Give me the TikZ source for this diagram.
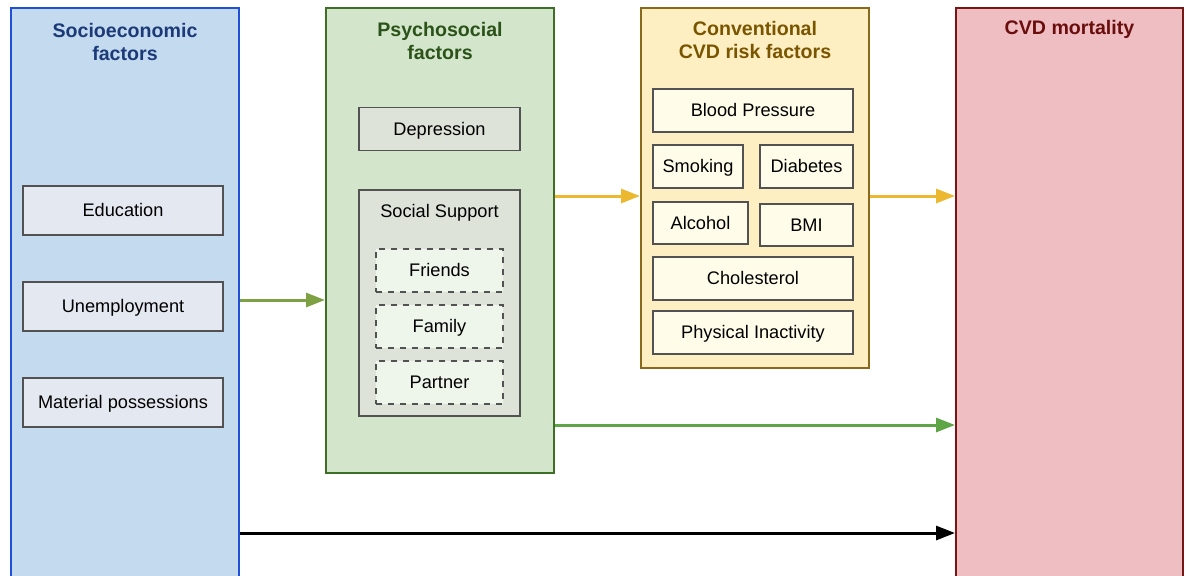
\documentclass[tikz,border=0pt]{standalone}
\usepackage{fontspec}
\setmainfont{Liberation Sans}
\usetikzlibrary{arrows.meta}
\definecolor{sefill}{HTML}{C4DAEF}
\definecolor{sedraw}{HTML}{2050D8}
\definecolor{setext}{HTML}{1C3A78}
\definecolor{seitem}{HTML}{E4E9F1}
\definecolor{psyfill}{HTML}{D3E6CC}
\definecolor{psydraw}{HTML}{3D7024}
\definecolor{psytext}{HTML}{2B5218}
\definecolor{psyitem}{HTML}{DEE3D9}
\definecolor{psysub}{HTML}{EEF5EA}
\definecolor{convfill}{HTML}{FEEFC3}
\definecolor{convdraw}{HTML}{8A6A1A}
\definecolor{convtext}{HTML}{7A5500}
\definecolor{convitem}{HTML}{FFFDEA}
\definecolor{cvdfill}{HTML}{EFBEC2}
\definecolor{cvddraw}{HTML}{7A1515}
\definecolor{cvdtext}{HTML}{6A0D0D}
\definecolor{olivearrow}{HTML}{7EA243}
\definecolor{yellowarrow}{HTML}{EBB82F}
\definecolor{greenarrow}{HTML}{5DA545}
\tikzset{
    x=0.5pt,
    y=-0.5pt,
    group/.style = {
        draw,
        shape=rectangle,
        inner sep=0pt,
        line width=1pt
    },
    title/.style = {
        align=center,
        font=\fontsize{9.8}{11.5}\selectfont\bfseries
    },
    label text/.style = {
        inner sep=0pt,
        text height=7.2pt,
        text depth=1pt,
        font=\fontsize{9.1}{11}\selectfont
    },
    item/.style = {
        label text,
        draw=black!68,
        shape=rectangle,
        line width=0.6pt
    },
    sub/.style = {
        item,
        dashed,
        fill=psysub
    },
    link/.style = {
        draw,
        line width=1.5pt,
        -{Triangle[length=9.5pt,width=7pt]}
    },
}

\begin{document}
\begin{tikzpicture}
            \useasboundingbox (0,0) rectangle (1186,575);

            % outer groups
            \node[group, fill=sefill, draw=sedraw, minimum width=114pt, minimum height=291pt] (socio) at (125,299) {};
            \node[group, fill=psyfill, draw=psydraw, minimum width=114pt, minimum height=232.5pt] (psycho) at (440,240.5) {};
            \node[group, fill=convfill, draw=convdraw, minimum width=114pt, minimum height=180pt] (conv) at (755,188) {};
            \node[group, fill=cvdfill, draw=cvddraw, minimum width=113.5pt, minimum height=291pt] (cvd) at (1069.5,299) {};

            \node[title, text=setext] (sotitle) at (125,42) {Socioeconomic\\factors};
            \node[title, text=psytext] (psytitle) at (440,41) {Psychosocial\\factors};
            \node[title, text=convtext] (convtitle) at (755,40) {Conventional\\CVD risk factors};
            \node[title, text=cvdtext] (cvdtitle) at (1069.5,29) {CVD mortality};

            % socioeconomic
            \node[item, fill=seitem, minimum width=100pt, minimum height=24.5pt] (edu) at (123,210.5) {Education};
            \node[item, fill=seitem, minimum width=100pt, minimum height=24.5pt] (unemp) at (123,306.5) {Unemployment};
            \node[item, fill=seitem, minimum width=100pt, minimum height=24.5pt] (mat) at (123,402.5) {Material possessions};

            % psychosocial
            \node[item, fill=psyitem, minimum width=80.5pt, minimum height=21.5pt] (dep) at (439.5,129) {Depression};
            \node[item, fill=psyitem, minimum width=80.5pt, minimum height=113pt] (social) at (439.5,303) {};
            \node[label text] (soctitle) at (439.5,211.5) {Social Support};
            \node[sub, minimum width=63.5pt, minimum height=21.5pt] (friends) at (439.5,270.5) {Friends};
            \node[sub, minimum width=63.5pt, minimum height=21.5pt] (family) at (439.5,326.5) {Family};
            \node[sub, minimum width=63.5pt, minimum height=21.5pt] (partner) at (439.5,382.5) {Partner};

            % conventional risk factors
            \node[item, fill=convitem, minimum width=100pt, minimum height=21.5pt] (bp) at (753,110.5) {Blood Pressure};
            \node[item, fill=convitem, minimum width=45pt, minimum height=21.5pt] (smok) at (698,166.5) {Smoking};
            \node[item, fill=convitem, minimum width=46.5pt, minimum height=21.5pt] (diab) at (806.5,166.5) {Diabetes};
            \node[item, fill=convitem, minimum width=47.5pt, minimum height=21pt] (alc) at (700.5,223) {Alcohol};
            \node[item, fill=convitem, minimum width=46.5pt, minimum height=21pt] (bmi) at (806.5,225) {BMI};
            \node[item, fill=convitem, minimum width=100pt, minimum height=21.5pt] (chol) at (753,278.5) {Cholesterol};
            \node[item, fill=convitem, minimum width=100pt, minimum height=21.5pt] (phys) at (753,332.5) {Physical Inactivity};

            % arrows
            \path[link, color=olivearrow] (socio.east |- 0,300) -- (psycho.west |- 0,300);
            \path[link, color=yellowarrow] (psycho.east |- 0,196) -- (conv.west |- 0,196);
            \path[link, color=yellowarrow] (conv.east |- 0,196) -- (cvd.west |- 0,196);
            \path[link, color=greenarrow] (psycho.east |- 0,425) -- (cvd.west |- 0,425);
            \path[link, color=black] (socio.east |- 0,533) -- (cvd.west |- 0,533);
\end{tikzpicture}
\end{document}
